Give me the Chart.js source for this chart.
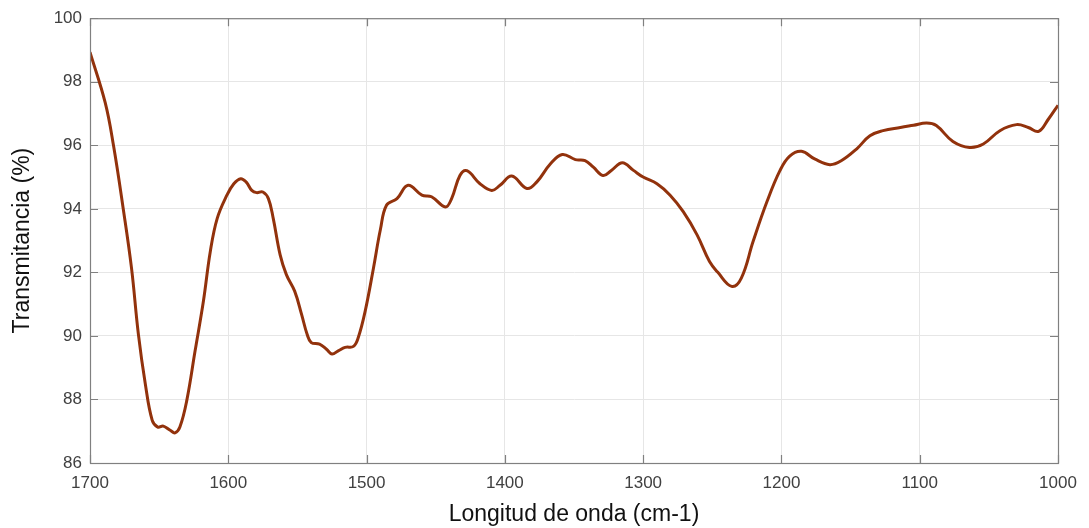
<!DOCTYPE html>
<html lang="es">
<head>
<meta charset="utf-8">
<title>Espectro IR</title>
<script src="https://cdn.jsdelivr.net/npm/chart.js@4/dist/chart.umd.min.js"></script>
<style>
    html, body { margin: 0; padding: 0; background: #fff; }
    #wrap { width: 1089px; height: 528px; position: relative; }
</style>
</head>
<body>
<div id="wrap"><canvas id="espectro"></canvas></div>
<script>
// Número de onda (cm-1), de 1700 a 1000
const numeroOnda = [
    1700, 1689, 1683, 1676, 1670, 1665, 1660, 1655, 1651, 1647,
    1642, 1638.5, 1635, 1630, 1624, 1618, 1613, 1608, 1601, 1596,
    1591, 1587, 1583, 1579.5, 1575, 1571, 1567.5, 1562.5, 1558, 1552,
    1547, 1543, 1540, 1534, 1529, 1525, 1520.5, 1515.5, 1509.5, 1506,
    1501, 1495, 1490, 1485.5, 1478, 1470, 1460, 1453, 1443, 1438.5,
    1432.5, 1427.5, 1418, 1409.5, 1403.5, 1395, 1384, 1377, 1367, 1358.5,
    1349, 1342, 1336, 1329, 1323, 1315, 1307, 1300, 1290, 1280.5,
    1271, 1261, 1252, 1246, 1236, 1229, 1220.5, 1210.5, 1201, 1194,
    1185.5, 1176, 1165, 1156.5, 1145.5, 1136, 1126.5, 1114, 1104.5, 1095,
    1088, 1076, 1064, 1054, 1042, 1030, 1021.5, 1014, 1007, 1000
];

// Transmitancia (%)
const transmitancia = [
    98.93, 97.34, 95.99, 94.01, 92.14, 90.05, 88.49, 87.34, 87.13, 87.16,
    87.03, 86.95, 87.13, 87.97, 89.53, 91.09, 92.66, 93.70, 94.43, 94.79,
    94.95, 94.84, 94.58, 94.51, 94.53, 94.32, 93.70, 92.55, 91.93, 91.41,
    90.68, 90.05, 89.79, 89.74, 89.58, 89.43, 89.53, 89.64, 89.67, 89.95,
    90.78, 92.14, 93.35, 94.12, 94.32, 94.74, 94.43, 94.38, 94.06, 94.32,
    95.05, 95.20, 94.79, 94.58, 94.74, 95.03, 94.64, 94.84, 95.42, 95.71,
    95.55, 95.52, 95.31, 95.05, 95.21, 95.45, 95.21, 95.00, 94.79, 94.43,
    93.91, 93.18, 92.34, 92.00, 91.56, 91.82, 92.97, 94.22, 95.21, 95.66,
    95.81, 95.57, 95.39, 95.52, 95.89, 96.30, 96.46, 96.56, 96.63, 96.70,
    96.62, 96.12, 95.93, 96.04, 96.46, 96.65, 96.56, 96.44, 96.82, 97.26
];

// Ejes
const limitesX = { min: 1000, max: 1700, paso: 100 };
const limitesY = { min: 86, max: 100, paso: 2 };

const tickFont = { family: '"Liberation Sans", Arial, sans-serif', size: 17 };
const titleFont = { family: '"Liberation Sans", Arial, sans-serif', size: 23 };

// Marco completo y marcas hacia dentro (estilo MATLAB)
const marcoEjes = {
    id: 'marcoEjes',
    afterDraw: (chart) => {
        const { ctx, chartArea: a, scales } = chart;
        const largo = 8;
        ctx.save();
        ctx.strokeStyle = '#808080';
        ctx.lineWidth = 1.2;
        ctx.strokeRect(a.left + 0.5, a.top + 0.5, a.right - a.left, a.bottom - a.top);
        ctx.beginPath();
        scales.x.ticks.forEach(t => {
            const px = Math.round(scales.x.getPixelForValue(t.value)) + 0.5;
            ctx.moveTo(px, a.bottom); ctx.lineTo(px, a.bottom - largo);
            ctx.moveTo(px, a.top); ctx.lineTo(px, a.top + largo);
        });
        scales.y.ticks.forEach(t => {
            const py = Math.round(scales.y.getPixelForValue(t.value)) + 0.5;
            ctx.moveTo(a.left, py); ctx.lineTo(a.left + largo, py);
            ctx.moveTo(a.right, py); ctx.lineTo(a.right - largo, py);
        });
        ctx.stroke();
        ctx.restore();
    }
};

const Espectro = {
    chart: null,

    init: () => {
        const ctx = document.getElementById('espectro');
        if (!ctx) return;

        Espectro.chart = new Chart(ctx, {
            type: 'line',
            data: {
                datasets: [{
                    label: 'Transmitancia',
                    data: numeroOnda.map((x, i) => ({ x: x, y: transmitancia[i] })),
                    borderColor: '#92320c',
                    borderWidth: 3,
                    pointRadius: 0,
                    tension: 0.4,
                    fill: false
                }]
            },
            plugins: [marcoEjes],
            options: {
                responsive: true,
                maintainAspectRatio: false,
                animation: false,
                layout: { padding: { top: 15, right: 31, left: 0, bottom: 0 } },
                scales: {
                    x: {
                        type: 'linear',
                        reverse: true,
                        min: limitesX.min,
                        max: limitesX.max,
                        afterFit: (s) => { s.height = 65; },
                        ticks: {
                            stepSize: limitesX.paso,
                            color: '#404040',
                            font: tickFont,
                            padding: 10,
                            maxRotation: 0,
                            callback: (v) => String(v)
                        },
                        grid: { color: '#e6e6e6', drawTicks: false },
                        border: { color: '#808080' },
                        title: {
                            display: true,
                            text: 'Longitud de onda (cm-1)',
                            color: '#111111',
                            font: titleFont,
                            padding: { top: 0, bottom: 0 }
                        }
                    },
                    y: {
                        min: limitesY.min,
                        max: limitesY.max,
                        afterFit: (s) => { s.width = 90; },
                        ticks: {
                            stepSize: limitesY.paso,
                            color: '#404040',
                            font: tickFont,
                            padding: 8,
                            callback: (v) => String(v)
                        },
                        grid: { color: '#e6e6e6', drawTicks: false },
                        border: { color: '#808080' },
                        title: {
                            display: true,
                            text: 'Transmitancia (%)',
                            color: '#111111',
                            font: titleFont,
                            padding: { top: 9, bottom: 0 }
                        }
                    }
                },
                plugins: {
                    legend: { display: false },
                    tooltip: { enabled: false }
                }
            }
        });
    }
};

Espectro.init();
</script>
</body>
</html>
